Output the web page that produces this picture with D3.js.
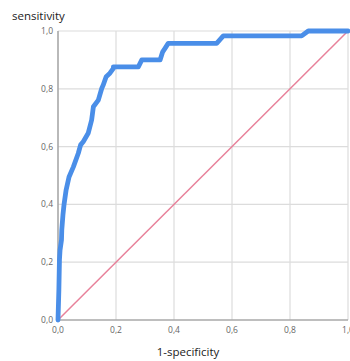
<!DOCTYPE html>
<html><head><meta charset="utf-8">
<script src="https://cdn.jsdelivr.net/npm/d3@7"></script>
<style>body{margin:0;background:#fff}svg{display:block}</style>
</head><body>
<svg id="c" width="350" height="361"></svg>
<script>
const fpr = [0,0.003,0.005,0.007,0.012,0.013,0.017,0.021,0.028,0.038,0.053,0.07,0.078,0.087,0.104,0.116,0.122,0.139,0.151,0.156,0.166,0.179,0.191,0.191,0.277,0.289,0.352,0.361,0.369,0.38,0.547,0.57,0.84,0.863,1];
const tpr = [0,0.104,0.208,0.242,0.277,0.311,0.363,0.401,0.45,0.495,0.53,0.577,0.606,0.617,0.646,0.692,0.738,0.761,0.802,0.813,0.842,0.854,0.871,0.876,0.876,0.9,0.9,0.928,0.94,0.957,0.957,0.983,0.983,1,1];
const refLine = [0,1];
const ticks = [0,0.2,0.4,0.6,0.8,1];
const tickLabels = ["0,0","0,2","0,4","0,6","0,8","1,0"];

const svg = d3.select("#c");
const x = d3.scaleLinear().domain([0,1]).range([58,348]);
const y = d3.scaleLinear().domain([0,1]).range([320,31]);

// gridlines
svg.append("g").selectAll("line.v").data(ticks.slice(1)).join("line")
  .attr("x1",d=>x(d)).attr("x2",d=>x(d)).attr("y1",y(0)).attr("y2",y(1))
  .attr("stroke","#dcdcdc").attr("stroke-width",1.2);
svg.append("g").selectAll("line.h").data(ticks.slice(1)).join("line")
  .attr("x1",x(0)).attr("x2",x(1)).attr("y1",d=>y(d)).attr("y2",d=>y(d))
  .attr("stroke","#dcdcdc").attr("stroke-width",1.2);

// axis lines
svg.append("line").attr("x1",x(0)).attr("x2",x(0)).attr("y1",y(0)).attr("y2",y(1))
  .attr("stroke","#a8a8a8").attr("stroke-width",1.6);
svg.append("line").attr("x1",x(0)).attr("x2",x(1)).attr("y1",y(0)).attr("y2",y(0))
  .attr("stroke","#a8a8a8").attr("stroke-width",1.6);

// tick labels
svg.append("g").selectAll("text").data(ticks).join("text")
  .attr("x",53).attr("y",d=>y(d)+3).attr("text-anchor","end")
  .attr("font-family","Open Sans, sans-serif").attr("font-size",8.5).attr("fill","#666")
  .text((d,i)=>tickLabels[i]);
svg.append("g").selectAll("text").data(ticks).join("text")
  .attr("x",d=>x(d)).attr("y",333).attr("text-anchor","middle")
  .attr("font-family","Open Sans, sans-serif").attr("font-size",8.5).attr("fill","#666")
  .text((d,i)=>tickLabels[i]);

// reference diagonal
svg.append("line").attr("x1",x(refLine[0])).attr("y1",y(refLine[0]))
  .attr("x2",x(refLine[1])).attr("y2",y(refLine[1]))
  .attr("stroke","#e8819a").attr("stroke-width",1.5);

// ROC curve
const pts = fpr.map((f,i)=>[f,tpr[i]]);
svg.append("path").datum(pts)
  .attr("d",d3.line().x(d=>x(d[0])).y(d=>y(d[1])))
  .attr("fill","none").attr("stroke","#4a8ee8").attr("stroke-width",4.8)
  .attr("stroke-linejoin","round").attr("stroke-linecap","round");

// axis titles
svg.append("text").attr("x",12).attr("y",20)
  .attr("font-family","Open Sans, sans-serif").attr("font-size",11.5).attr("fill","#222")
  .text("sensitivity");
svg.append("text").attr("x",188).attr("y",356).attr("text-anchor","middle")
  .attr("font-family","Open Sans, sans-serif").attr("font-size",11.5).attr("fill","#222")
  .text("1-specificity");
</script>
</body></html>
